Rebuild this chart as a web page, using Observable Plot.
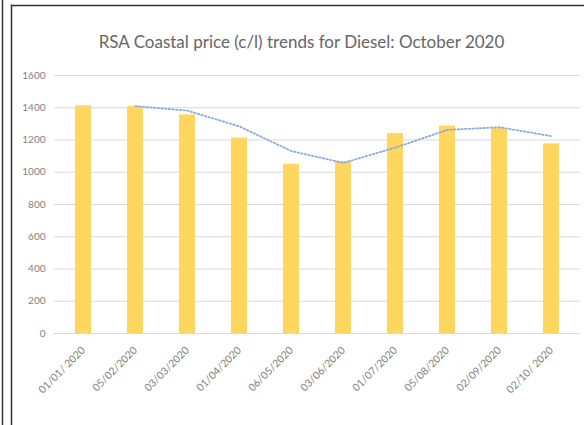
<!DOCTYPE html>
<html>
<head>
<meta charset="utf-8">
<script src="https://cdn.jsdelivr.net/npm/d3@7"></script>
<script src="https://cdn.jsdelivr.net/npm/@observablehq/plot@0.6"></script>
<style>
  html, body { margin: 0; padding: 0; background: #fff; overflow: hidden; }
  svg { display: block; }
</style>
</head>
<body>
<script>
const title = "RSA Coastal price (c/l) trends for Diesel: October 2020";
const dates = ["01/01/ 2020", "05/02/2020", "03/03/2020", "01/04/2020", "06/05/2020",
               "03/06/2020", "01/07/2020", "05/08/2020", "02/09/2020", "02/10/ 2020"];
const prices = [1412, 1408, 1356, 1212, 1050, 1066, 1240, 1286, 1272, 1176];
const yTicks = [0, 200, 400, 600, 800, 1000, 1200, 1400, 1600];

const data = dates.map((d, i) => ({date: d, price: prices[i]}));
const font = "Lato, 'Open Sans', sans-serif";

const chart = Plot.plot({
  width: 584,
  height: 425,
  marginLeft: 54,
  marginRight: 4,
  marginTop: 75,
  marginBottom: 92,
  style: {background: "#fff", fontFamily: font},
  x: {domain: dates, paddingInner: 0.7, paddingOuter: 0.35, label: null},
  y: {domain: [0, 1600], label: null},
  marks: [
    Plot.frame({anchor: "left", insetLeft: -52, insetTop: -75, insetBottom: -92, stroke: "#333", strokeWidth: 1.5}),
    Plot.frame({anchor: "left", insetLeft: -43, insetTop: -70, insetBottom: -92, stroke: "#333", strokeWidth: 1.5}),
    Plot.frame({anchor: "top", insetTop: -70, insetLeft: -43, insetRight: -4, stroke: "#333", strokeWidth: 1.5}),
    Plot.gridY(yTicks, {stroke: "#d9d9d9", strokeOpacity: 1, strokeWidth: 1}),
    Plot.axisY(yTicks, {tickSize: 0, tickPadding: 9, fontSize: 10, fill: "#7f7f7f", label: null, tickFormat: d => String(d)}),
    Plot.axisX({tickSize: 0, tickPadding: 15, tickRotate: -45, fontSize: 10.5, fill: "#7f7f7f", label: null}),
    Plot.barY(data, {x: "date", y: "price", fill: "#ffd75e"}),
    Plot.lineY(data, Plot.windowY({k: 2, anchor: "end", strict: true},
      {x: "date", y: "price", stroke: "#8eaadb", strokeWidth: 1.8, strokeDasharray: "1.5,2.2"})),
    Plot.text([title], {frameAnchor: "top", dy: -40, dx: -16, text: d => d, fontSize: 17, fill: "#666666", fontFamily: font})
  ]
});
document.body.appendChild(chart);
</script>
</body>
</html>
